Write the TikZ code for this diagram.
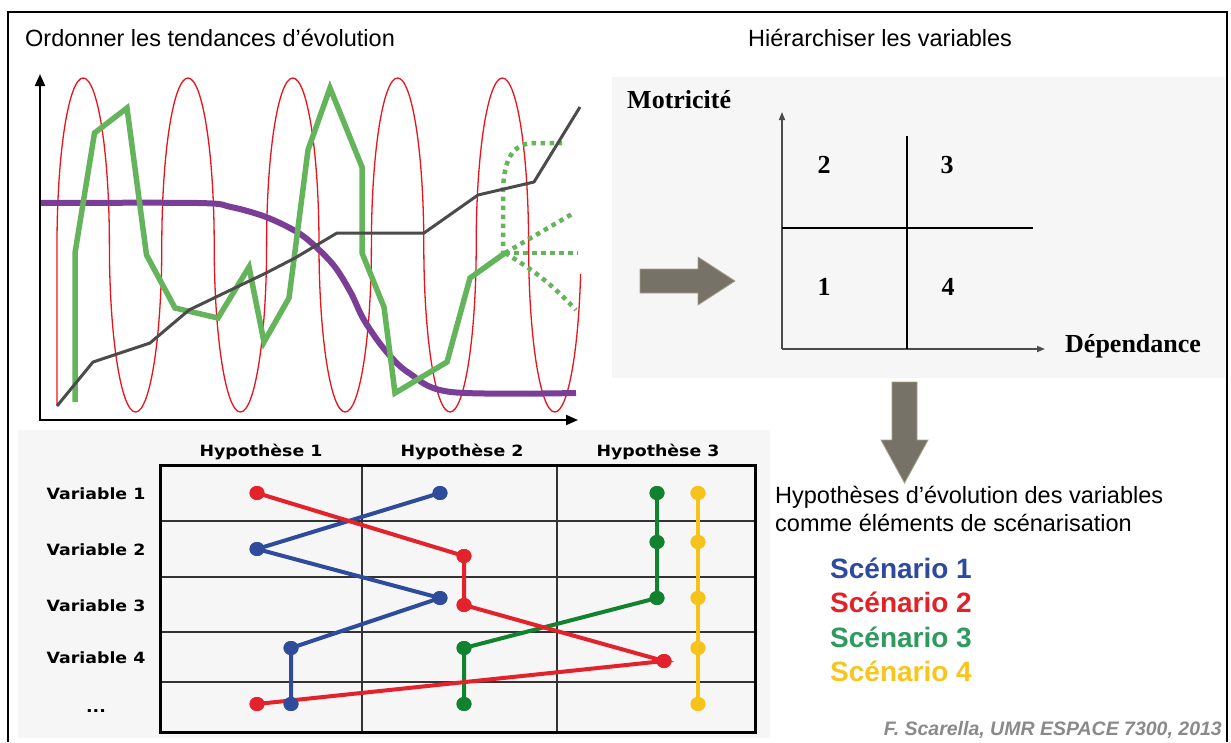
\documentclass[tikz,border=0pt]{standalone}
\usepackage{fontspec}
\setmainfont{Liberation Sans}
\newfontfamily\serifb{Liberation Serif}
\newfontfamily\tabf[FakeStretch=1.12]{DejaVu Sans}
\usetikzlibrary{shapes.geometric,arrows.meta}
\definecolor{cred}{HTML}{E4222B}
\definecolor{cblue}{HTML}{2F4B9C}
\definecolor{cgreen}{HTML}{13822F}
\definecolor{cyellow}{HTML}{F6C21C}
\definecolor{tblue}{HTML}{2E4A9E}
\definecolor{tred}{HTML}{E42127}
\definecolor{tgreen}{HTML}{2E9A5E}
\definecolor{tyellow}{HTML}{F7C51E}
\definecolor{chred}{HTML}{E8141B}
\definecolor{chgreen}{HTML}{64B45C}
\definecolor{chpurple}{HTML}{7A3E96}
\definecolor{chblack}{HTML}{4B4B4B}
\definecolor{panel}{HTML}{F6F6F6}
\definecolor{arrowfill}{HTML}{777268}
\definecolor{arrowedge}{HTML}{A89F86}
\definecolor{credit}{HTML}{8A8A8A}
\tikzset{
  heading/.style={anchor=base west,inner sep=0pt,font=\fontsize{23.5}{28}\selectfont},
  scen/.style={anchor=base west,inner sep=0pt,font=\fontsize{28}{32}\selectfont\bfseries},
  tabtxt/.style={anchor=base,inner sep=0pt,font=\tabf\fontsize{15.5}{18}\selectfont\bfseries},
  matxt/.style={inner sep=0pt,font=\serifb\fontsize{26}{30}\selectfont\bfseries},
  dot/.style={ellipse,inner sep=0pt,minimum width=15pt,minimum height=14pt,draw=none},
  sc/.style={line width=4pt},
  blockarrow/.style={fill=arrowfill,draw=arrowedge,line width=0.8pt},
  tip/.style={-{Triangle[length=12pt,width=10pt]}},
  smalltip/.style={-{Triangle[length=8pt,width=6pt]}},
}
\begin{document}
\begin{tikzpicture}[x=1pt,y=-1pt]
\useasboundingbox (0,0) rectangle (1231,742);
\fill[white] (0,0) rectangle (1231,742);
% frame
\draw[line width=2pt] (8,742) -- (8,12) -- (1227,12) -- (1227,742);
% panels
\fill[panel] (612,77) rectangle (1225,378);
\fill[panel] (18,430) rectangle (770,738);

% titles
\node[heading] (t1) at (25,46.5) {Ordonner les tendances d’évolution};
\node[heading] (t2) at (748,46.5) {Hiérarchiser les variables};

% ---------- chart ----------
\draw[chred, line width=1.3pt] (57,405) -- (57,245)
  arc[start angle=180,end angle=360,x radius=26.2,y radius=167]
  arc[start angle=180,end angle=0,x radius=26.2,y radius=167]
  arc[start angle=180,end angle=360,x radius=26.2,y radius=167]
  arc[start angle=180,end angle=0,x radius=26.2,y radius=167]
  arc[start angle=180,end angle=360,x radius=26.2,y radius=167]
  arc[start angle=180,end angle=0,x radius=26.2,y radius=167]
  arc[start angle=180,end angle=360,x radius=26.2,y radius=167]
  arc[start angle=180,end angle=0,x radius=26.2,y radius=167]
  arc[start angle=180,end angle=360,x radius=26.2,y radius=167]
  arc[start angle=180,end angle=10,x radius=26.2,y radius=167];
\draw[chpurple, line width=6pt] plot[smooth, tension=0.55] coordinates
  {(40,203) (198,203) (231,207) (266,217) (297,232) (316,247) (335,267) (351,293) (364,320) (385,350) (409,373) (451,392) (576,393)};
\draw[chgreen, line width=5.5pt, line join=miter] (75,402) -- (75,253) -- (94.5,133) -- (127,108) -- (146.5,255) -- (175,308) -- (218,318) -- (249,267) -- (264,342) -- (289,298) -- (308,150) -- (330,88) -- (362,167) -- (362,253) -- (384,307) -- (395,393) -- (447,362) -- (470,278) -- (505,253);
\coordinate (gb) at (505,253);
\begin{scope}[chgreen, line width=4.5pt, dash pattern=on 4.5pt off 4.5pt]
\draw (gb) -- (503,253) -- (503,195) .. controls (503,160) and (512,143) .. (535,143) -- (562,143);
\draw (gb) -- (572,214);
\draw (gb) -- (578,253);
\draw (gb) .. controls (530,268) and (550,282) .. (576,310);
\end{scope}
\draw[chblack, line width=3pt, line join=round] (57,406) -- (93,362) -- (150,343) -- (189,310) -- (266,273) -- (295,258) -- (337,233) -- (424,233) -- (478,195) -- (534,182) -- (580,107);
% axes
\coordinate (o) at (40,420);
\coordinate (ytop) at (40,74);
\coordinate (xend) at (578,420);
\draw[line width=2pt, tip] (40,421) -- (ytop);
\draw[line width=2pt, tip] (39,420) -- (xend);

% ---------- matrix ----------
\node[matxt, anchor=base west] (mot) at (627,108) {Motricité};
\node[matxt, anchor=base west] (dep) at (1065,352) {Dépendance};
\coordinate (mo) at (782,349);
\coordinate (mtop) at (782,112);
\coordinate (mright) at (1045,349);
\draw[black!70, line width=1.6pt, smalltip] (mo) -- (mtop);
\draw[black!70, line width=1.6pt, smalltip] (mo) -- (mright);
\draw[black, line width=1.2pt] (782,228) -- (1033,228);
\draw[black, line width=1.2pt] (907,136) -- (907,349);
\node[matxt, anchor=base] (q2) at (824,173) {2};
\node[matxt, anchor=base] (q3) at (947,173) {3};
\node[matxt, anchor=base] (q1) at (824,295) {1};
\node[matxt, anchor=base] (q4) at (948,295) {4};

% block arrows
\draw[blockarrow] (640,269) -- (698,269) -- (698,257) -- (735,281) -- (698,305) -- (698,293) -- (640,293) -- cycle;
\draw[blockarrow] (892,382) -- (917,382) -- (917,440) -- (928,440) -- (904.5,483) -- (881,440) -- (892,440) -- cycle;

% ---------- table ----------
\draw[black!80, line width=1.2pt] (160,521) -- (755,521) (160,577) -- (755,577) (160,632) -- (755,632) (160,682) -- (755,682) (362,465) -- (362,732) (557,465) -- (557,732);
\draw[black, line width=3pt] (160,465) rectangle (755,732);
\node[tabtxt] (h1) at (261,456) {Hypothèse 1};
\node[tabtxt] (h2) at (462,456) {Hypothèse 2};
\node[tabtxt] (h3) at (658,456) {Hypothèse 3};
\node[tabtxt] (v1) at (96,499) {Variable 1};
\node[tabtxt] (v2) at (96,555) {Variable 2};
\node[tabtxt] (v3) at (96,611) {Variable 3};
\node[tabtxt] (v4) at (96,663.5) {Variable 4};
\node[tabtxt] (v5) at (96,712) {...};

% scenario dots
\node[dot, fill=cred] (r1) at (257,493) {};
\node[dot, fill=cred] (r2) at (464,556) {};
\node[dot, fill=cred] (r3) at (464,605) {};
\node[dot, fill=cred] (r4) at (664,661) {};
\node[dot, fill=cred] (r5) at (257,704) {};
\node[dot, fill=cblue] (b1) at (440,493) {};
\node[dot, fill=cblue] (b2) at (257,549) {};
\node[dot, fill=cblue] (b3) at (440,598) {};
\node[dot, fill=cblue] (b4) at (291,648) {};
\node[dot, fill=cblue] (b5) at (291,704) {};
\node[dot, fill=cgreen] (g1) at (657,493) {};
\node[dot, fill=cgreen] (g2) at (657,542) {};
\node[dot, fill=cgreen] (g3) at (657,598) {};
\node[dot, fill=cgreen] (g4) at (464,648) {};
\node[dot, fill=cgreen] (g5) at (464,704) {};
\node[dot, fill=cyellow] (y1) at (698,493) {};
\node[dot, fill=cyellow] (y2) at (698,542) {};
\node[dot, fill=cyellow] (y3) at (698,598) {};
\node[dot, fill=cyellow] (y4) at (698,648) {};
\node[dot, fill=cyellow] (y5) at (698,704) {};
\draw[sc, cyellow] (y1.center) -- (y2.center) -- (y3.center) -- (y4.center) -- (y5.center);
\draw[sc, cgreen] (g1.center) -- (g2.center) -- (g3.center) -- (g4.center) -- (g5.center);
\draw[sc, cblue] (b1.center) -- (b2.center) -- (b3.center) -- (b4.center) -- (b5.center);
\draw[sc, cred] (r1.center) -- (r2.center) -- (r3.center) -- (r4.center) -- (r5.center);
\foreach \n/\c in {y1/cyellow,y2/cyellow,y3/cyellow,y4/cyellow,y5/cyellow,g1/cgreen,g2/cgreen,g3/cgreen,g4/cgreen,g5/cgreen,b1/cblue,b2/cblue,b3/cblue,b4/cblue,b5/cblue,r1/cred,r2/cred,r3/cred,r4/cred,r5/cred}
  \fill[\c] (\n.center) ellipse[x radius=7.5, y radius=7];

% ---------- right text ----------
\node[heading] (hyp1) at (775,503) {Hypothèses d’évolution des variables};
\node[heading] (hyp2) at (775,531) {comme éléments de scénarisation};
\node[scen, text=tblue] (s1) at (830,578) {Scénario 1};
\node[scen, text=tred] (s2) at (830,612.5) {Scénario 2};
\node[scen, text=tgreen] (s3) at (830,647) {Scénario 3};
\node[scen, text=tyellow] (s4) at (830,681) {Scénario 4};
\node[anchor=base east, inner sep=0pt, text=credit, font=\fontsize{19.5}{22}\selectfont\bfseries\itshape] (cr) at (1222,735.5) {F. Scarella, UMR ESPACE 7300, 2013};
\end{tikzpicture}
\end{document}
